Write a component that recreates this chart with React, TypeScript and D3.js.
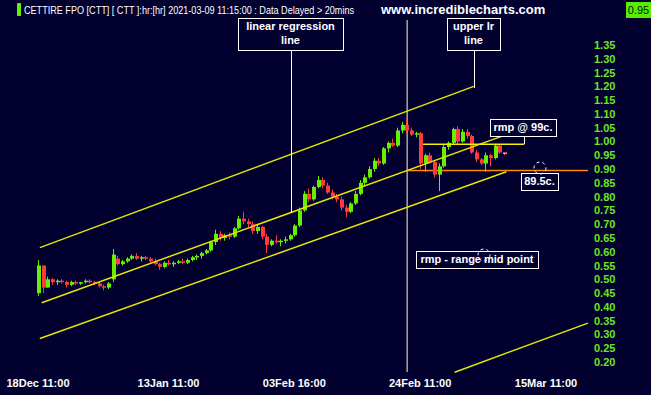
import React, { useEffect, useRef } from 'react';
import * as d3 from 'd3';

const title = 'CETTIRE FPO [CTT] [ CTT ]:hr:[hr]  2021-03-09 11:15:00 : Data Delayed > 20mins';
const site = 'www.incrediblecharts.com';
const lastPrice = '0.95';

// hourly bars
const opens = [
  0.45, 0.55, 0.47, 0.50, 0.49, 0.495, 0.49, 0.48, 0.49, 0.485,
  0.49, 0.495, 0.49, 0.485, 0.475, 0.47, 0.50, 0.575, 0.555, 0.565,
  0.575, 0.585, 0.575, 0.58, 0.575, 0.565, 0.555, 0.545, 0.56, 0.555,
  0.56, 0.565, 0.56, 0.57, 0.58, 0.585, 0.595, 0.605, 0.635, 0.665,
  0.65, 0.66, 0.655, 0.685, 0.72, 0.71, 0.70, 0.675, 0.69, 0.655,
  0.625, 0.64, 0.635, 0.64, 0.645, 0.66, 0.695, 0.75, 0.81, 0.79,
  0.835, 0.86, 0.84, 0.815, 0.80, 0.79, 0.76, 0.745, 0.775, 0.81,
  0.85, 0.87, 0.90, 0.93, 0.92, 0.975, 0.995, 0.985, 1.04, 1.06,
  1.04, 1.025, 1.03, 0.92, 0.95, 0.925, 0.88, 0.91, 0.98, 0.995,
  1.045, 1.0, 1.035, 1.02, 0.96, 0.935, 0.92, 0.95, 0.94, 0.985,
  0.96,
];
const highs = [
  0.57, 0.55, 0.51, 0.505, 0.50, 0.50, 0.495, 0.495, 0.495, 0.49,
  0.50, 0.50, 0.495, 0.49, 0.48, 0.49, 0.61, 0.585, 0.57, 0.58,
  0.59, 0.595, 0.585, 0.585, 0.58, 0.575, 0.56, 0.565, 0.57, 0.565,
  0.57, 0.575, 0.575, 0.585, 0.59, 0.60, 0.61, 0.64, 0.68, 0.675,
  0.665, 0.67, 0.69, 0.73, 0.745, 0.72, 0.71, 0.70, 0.695, 0.665,
  0.645, 0.66, 0.645, 0.655, 0.665, 0.70, 0.76, 0.82, 0.83, 0.84,
  0.875, 0.87, 0.85, 0.825, 0.81, 0.80, 0.77, 0.78, 0.82, 0.86,
  0.88, 0.91, 0.94, 0.94, 0.98, 1.00, 1.01, 1.05, 1.07, 1.08,
  1.05, 1.035, 1.035, 0.955, 0.96, 0.93, 0.92, 0.99, 1.00, 1.05,
  1.055, 1.045, 1.045, 1.025, 0.97, 0.94, 0.96, 0.955, 0.99, 0.99,
  0.96,
];
const lows = [
  0.44, 0.45, 0.47, 0.48, 0.48, 0.485, 0.47, 0.475, 0.48, 0.48,
  0.485, 0.485, 0.48, 0.47, 0.46, 0.465, 0.49, 0.55, 0.55, 0.56,
  0.57, 0.57, 0.565, 0.57, 0.56, 0.55, 0.535, 0.54, 0.55, 0.545,
  0.555, 0.555, 0.555, 0.565, 0.57, 0.575, 0.59, 0.60, 0.625, 0.64,
  0.64, 0.645, 0.65, 0.68, 0.70, 0.69, 0.665, 0.665, 0.645, 0.595,
  0.62, 0.63, 0.62, 0.63, 0.64, 0.655, 0.69, 0.745, 0.78, 0.785,
  0.83, 0.83, 0.81, 0.79, 0.78, 0.75, 0.725, 0.74, 0.77, 0.805,
  0.84, 0.865, 0.89, 0.91, 0.915, 0.96, 0.98, 0.98, 1.03, 1.03,
  1.02, 1.015, 0.90, 0.89, 0.92, 0.87, 0.82, 0.905, 0.97, 0.99,
  0.99, 0.995, 1.01, 0.955, 0.925, 0.915, 0.89, 0.91, 0.935, 0.955,
  0.95,
];
const closes = [
  0.55, 0.47, 0.50, 0.49, 0.495, 0.49, 0.48, 0.49, 0.485, 0.49,
  0.495, 0.49, 0.485, 0.475, 0.47, 0.485, 0.59, 0.555, 0.565, 0.575,
  0.585, 0.575, 0.58, 0.575, 0.565, 0.555, 0.545, 0.56, 0.555, 0.56,
  0.565, 0.56, 0.57, 0.58, 0.585, 0.595, 0.605, 0.635, 0.665, 0.65,
  0.66, 0.655, 0.685, 0.72, 0.71, 0.70, 0.675, 0.69, 0.655, 0.625,
  0.64, 0.635, 0.64, 0.645, 0.66, 0.695, 0.75, 0.81, 0.79, 0.835,
  0.86, 0.84, 0.815, 0.80, 0.79, 0.76, 0.745, 0.775, 0.81, 0.85,
  0.87, 0.90, 0.93, 0.92, 0.975, 0.995, 0.985, 1.04, 1.06, 1.04,
  1.025, 1.03, 0.92, 0.95, 0.925, 0.88, 0.91, 0.98, 0.995, 1.045,
  1.0, 1.035, 1.02, 0.96, 0.935, 0.92, 0.95, 0.94, 0.985, 0.96,
  0.955,
];

const priceTicks = d3.range(0.2, 1.3501, 0.05);
const dateTickIndex = [0, 28, 55, 82, 109];
const dateTickLabels = ['18Dec 11:00', '13Jan 11:00', '03Feb 16:00', '24Feb 11:00', '15Mar 11:00'];

// drawn lines: [bar index from, price from, bar index to, price to]
const upperLine = [0.4, 0.615, 93.5, 1.2];
const regressionLine = [0.8, 0.415, 100.5, 1.025];
const lowerLine = [0.4, 0.285, 100.5, 0.89];
const extraLine = [89.4, 0.163, 118, 0.341];
const rmpLine = [82.6, 0.99, 104.3, 0.99];
const rangeMidLine = [79.2, 0.895, 118, 0.895];
const markerIndex = 79.2;

const BG = '#01002f';
const GREEN = '#66f000';
const RED = '#ff3b3b';
const YELLOW = '#e6e600';
const FONT = '"Liberation Sans", Arial, sans-serif';

export default function App() {
  const svgRef = useRef<SVGSVGElement | null>(null);

  useEffect(() => {
    if (!svgRef.current) return;
    const width = 651;
    const height = 395;

    const svg = d3.select(svgRef.current);
    svg.selectAll('*').remove();
    svg.attr('width', width).attr('height', height);

    svg.append('rect').attr('width', width).attr('height', height).attr('fill', BG);

    const x = d3.scaleLinear().domain([0, 109]).range([38, 546]);
    const y = d3.scaleLinear().domain([0.2, 1.35]).range([362, 45]);

    // header
    svg.append('rect').attr('x', 17).attr('y', 3).attr('width', 4).attr('height', 13)
      .attr('rx', 1).attr('fill', GREEN);
    // the site's title font is condensed, so squeeze it horizontally
    svg.append('text').attr('transform', 'translate(24,14) scale(0.79,1)').text(title)
      .attr('fill', '#fff').attr('font-family', FONT).attr('font-size', 11.5);
    svg.append('text').attr('x', 381).attr('y', 14).text(site)
      .attr('fill', '#fff').attr('font-family', FONT).attr('font-size', 13).attr('font-weight', 'bold');
    svg.append('rect').attr('x', 626).attr('y', 2).attr('width', 25).attr('height', 16).attr('fill', '#55ee00');
    svg.append('text').attr('x', 638.5).attr('y', 14).attr('text-anchor', 'middle').text(lastPrice)
      .attr('fill', '#001a00').attr('font-family', FONT).attr('font-size', 11);

    // y axis labels
    svg.append('g').selectAll('text').data(priceTicks).enter().append('text')
      .attr('x', 594).attr('y', d => y(d) + 4).text(d => d.toFixed(2))
      .attr('fill', '#6ee61a').attr('font-family', FONT).attr('font-size', 11).attr('font-weight', 'bold');

    // x axis labels
    svg.append('g').selectAll('text').data(dateTickIndex).enter().append('text')
      .attr('x', d => x(d)).attr('y', 387).attr('text-anchor', 'middle')
      .text((d, i) => dateTickLabels[i])
      .attr('fill', '#fff').attr('font-family', FONT).attr('font-size', 11).attr('font-weight', 'bold');

    const seg = (l: number[], color: string, w: number) =>
      svg.append('line')
        .attr('x1', x(l[0])).attr('y1', y(l[1])).attr('x2', x(l[2])).attr('y2', y(l[3]))
        .attr('stroke', color).attr('stroke-width', w);

    // white marker line
    svg.append('line').attr('x1', x(markerIndex)).attr('x2', x(markerIndex))
      .attr('y1', 20).attr('y2', 372).attr('stroke', '#ffffc8').attr('stroke-width', 1);

    seg(rangeMidLine, '#ff8c00', 1.5);

    // candles
    const bars = d3.range(opens.length);
    const g = svg.append('g');
    g.selectAll('line.wick').data(bars).enter().append('line')
      .attr('x1', i => Math.round(x(i)) + 0.5).attr('x2', i => Math.round(x(i)) + 0.5)
      .attr('y1', i => y(highs[i])).attr('y2', i => y(lows[i]))
      .attr('stroke', i => (closes[i] >= opens[i] ? GREEN : RED)).attr('stroke-width', 1);
    g.selectAll('rect').data(bars).enter().append('rect')
      .attr('x', i => Math.round(x(i)) - 1)
      .attr('width', 4)
      .attr('y', i => y(Math.max(opens[i], closes[i])))
      .attr('height', i => Math.max(1.5, Math.abs(y(opens[i]) - y(closes[i]))))
      .attr('fill', (i) => (i === bars.length - 1 ? '#ff9a9a' : closes[i] >= opens[i] ? GREEN : RED));

    seg(upperLine, YELLOW, 1.5);
    seg(regressionLine, YELLOW, 1.5);
    seg(lowerLine, YELLOW, 1.5);
    seg(extraLine, YELLOW, 1.5);
    seg(rmpLine, '#f0f000', 1.5);

    // annotation boxes
    const box = (bx: number, by: number, bw: number, bh: number, lines: string[]) => {
      svg.append('rect').attr('x', bx + 0.5).attr('y', by + 0.5).attr('width', bw).attr('height', bh)
        .attr('fill', BG).attr('stroke', '#fff').attr('stroke-width', 1);
      lines.forEach((t, k) => {
        svg.append('text').attr('x', bx + bw / 2).attr('y', by + 12 + k * 14)
          .attr('text-anchor', 'middle').text(t)
          .attr('fill', '#fff').attr('font-family', FONT).attr('font-size', 11).attr('font-weight', 'bold');
      });
    };
    const pointer = (px: number, y1: number, y2: number) =>
      svg.append('line').attr('x1', px + 0.5).attr('x2', px + 0.5).attr('y1', y1).attr('y2', y2)
        .attr('stroke', '#fff').attr('stroke-width', 1);

    pointer(291, 50, 213);
    box(238, 18, 105, 32, ['linear regression', 'line']);
    pointer(474, 50, 88);
    box(447, 18, 53, 32, ['upper lr', 'line']);
    pointer(524, 136, y(0.99));
    box(490, 119, 66, 17, ['rmp @ 99c.']);
    box(521, 173, 37, 17, ['89.5c.']);
    box(416, 251, 122, 17, ['rmp - range mid point']);

    // cursor marks
    [[540, 168], [484, 255]].forEach(([cx, cy]) => {
      svg.append('circle').attr('cx', cx).attr('cy', cy).attr('r', 6)
        .attr('fill', 'none').attr('stroke', '#fff').attr('stroke-width', 1).attr('stroke-dasharray', '3,3');
    });
  }, []);

  return <svg ref={svgRef} style={{ position: 'absolute', left: 0, top: 0 }}></svg>;
}
